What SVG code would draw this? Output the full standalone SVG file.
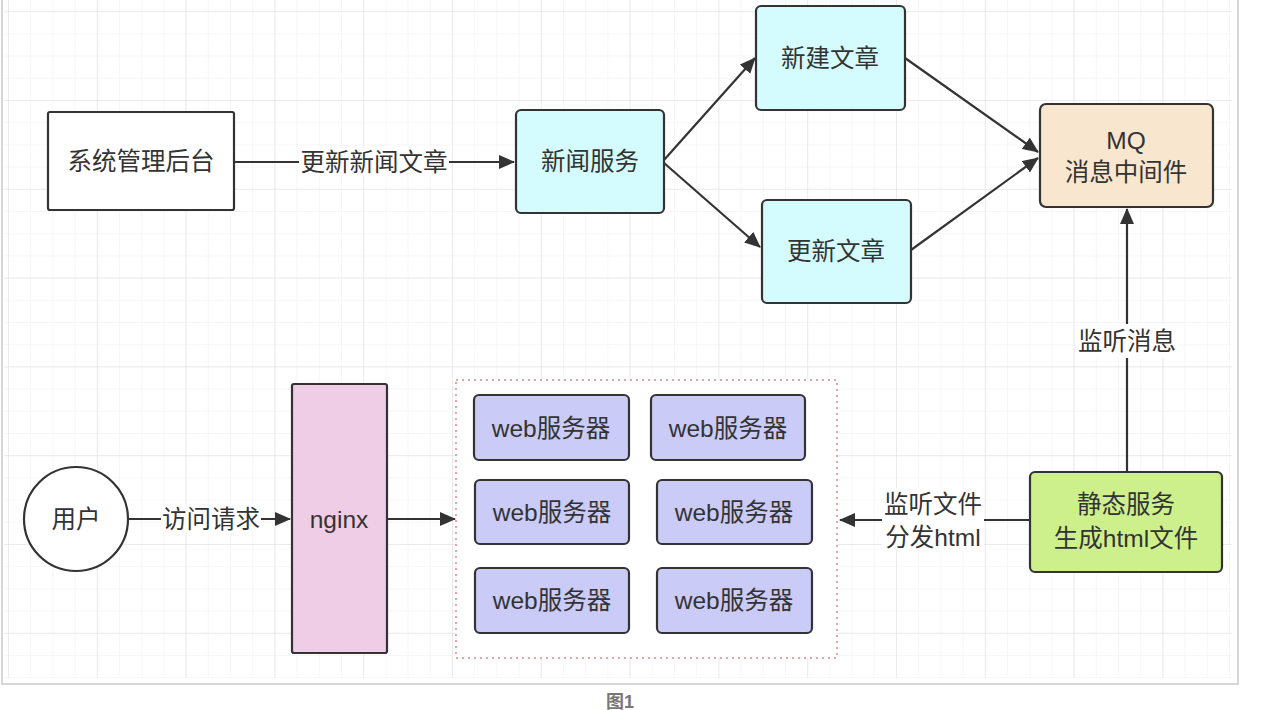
<svg xmlns="http://www.w3.org/2000/svg" width="1270" height="710" viewBox="0 0 1270 710">
<defs>
<pattern id="minor" x="8" y="11.2" width="22.2" height="22.2" patternUnits="userSpaceOnUse">
<path d="M0 0H22.2M0 0V22.2" fill="none" stroke="#eeeeee" stroke-width="1"/>
</pattern>
<pattern id="major" x="8" y="11.2" width="88.8" height="88.8" patternUnits="userSpaceOnUse">
<path d="M0 0H88.8M0 0V88.8" fill="none" stroke="#e0e0e0" stroke-width="1"/>
</pattern>
<marker id="arr" markerUnits="userSpaceOnUse" markerWidth="16" markerHeight="14" refX="15" refY="7" orient="auto">
<path d="M0 0L16 7L0 14Z" fill="#333"/>
</marker>
</defs>
<style>
.box{stroke:#333;stroke-width:2.2}
.t{font-family:"Liberation Sans","Noto Sans CJK SC",sans-serif;font-size:24.5px;fill:#333;text-anchor:middle;dominant-baseline:central}
.edge{stroke:#333;stroke-width:2.2;fill:none}
.lbg{fill:#fff}
</style>
<rect x="0" y="0" width="1270" height="710" fill="#fff"/>
<g id="frame">
<rect x="2" y="-2" width="1236" height="686" fill="#fff" stroke="#d6d6d6" stroke-width="2"/>
<rect x="4" y="0" width="1228" height="678" fill="url(#minor)"/>
<rect x="4" y="0" width="1228" height="678" fill="url(#major)"/>
</g>
<g id="connectors">
<line class="edge" x1="234" y1="162" x2="514" y2="162" marker-end="url(#arr)"/>
<rect class="lbg" x="299" y="148" width="150" height="28"/>
<text class="t" x="374" y="162">更新新闻文章</text>
<line class="edge" x1="664" y1="160" x2="755" y2="58" marker-end="url(#arr)"/>
<line class="edge" x1="664" y1="163" x2="760" y2="247" marker-end="url(#arr)"/>
<line class="edge" x1="905" y1="58" x2="1038" y2="152" marker-end="url(#arr)"/>
<line class="edge" x1="911" y1="250" x2="1038" y2="158" marker-end="url(#arr)"/>
<line class="edge" x1="1127" y1="472" x2="1127" y2="209" marker-end="url(#arr)"/>
<rect class="lbg" x="1076" y="324" width="102" height="34"/>
<text class="t" x="1127" y="341">监听消息</text>
<line class="edge" x1="1030" y1="520" x2="840" y2="520" marker-end="url(#arr)"/>
<rect class="lbg" x="882" y="488" width="102" height="62"/>
<text class="t" x="933" y="504">监听文件</text>
<text class="t" x="933" y="537">分发html</text>
<line class="edge" x1="128" y1="519" x2="290" y2="519" marker-end="url(#arr)"/>
<rect class="lbg" x="161" y="505" width="100" height="28"/>
<text class="t" x="211" y="519">访问请求</text>
<line class="edge" x1="387" y1="519" x2="455" y2="519" marker-end="url(#arr)"/>
</g>
<g id="admin">
<rect class="box" x="48" y="112" width="186" height="98" rx="2" fill="#fff"/>
<text class="t" x="141" y="161">系统管理后台</text>
</g>
<g id="news">
<rect class="box" x="516" y="110" width="148" height="103" rx="5" fill="#d4fbfd"/>
<text class="t" x="590" y="161">新闻服务</text>
</g>
<g id="create">
<rect class="box" x="756" y="6" width="149" height="104" rx="5" fill="#d4fbfd"/>
<text class="t" x="830" y="58">新建文章</text>
</g>
<g id="update">
<rect class="box" x="762" y="200" width="149" height="103" rx="5" fill="#d4fbfd"/>
<text class="t" x="836" y="251">更新文章</text>
</g>
<g id="mq">
<rect class="box" x="1040" y="104" width="173" height="103" rx="6" fill="#f9e6cf"/>
<text class="t" x="1126" y="140">MQ</text>
<text class="t" x="1126" y="172">消息中间件</text>
</g>
<g id="static">
<rect class="box" x="1030" y="472" width="192" height="100" rx="5" fill="#cdf08d"/>
<text class="t" x="1126" y="504">静态服务</text>
<text class="t" x="1126" y="538">生成html文件</text>
</g>
<g id="cluster">
<rect x="456" y="380" width="381" height="278" fill="#fff" stroke="#e8a4a4" stroke-width="2" stroke-dasharray="2 4"/>
</g>
<g id="web1"><rect class="box" x="474" y="395" width="155" height="65" rx="5" fill="#cbcbf7"/><text class="t" x="551" y="428">web服务器</text></g>
<g id="web2"><rect class="box" x="651" y="395" width="154" height="65" rx="5" fill="#cbcbf7"/><text class="t" x="728" y="428">web服务器</text></g>
<g id="web3"><rect class="box" x="475" y="480" width="154" height="64" rx="5" fill="#cbcbf7"/><text class="t" x="552" y="512">web服务器</text></g>
<g id="web4"><rect class="box" x="657" y="480" width="155" height="64" rx="5" fill="#cbcbf7"/><text class="t" x="734" y="512">web服务器</text></g>
<g id="web5"><rect class="box" x="475" y="568" width="154" height="65" rx="5" fill="#cbcbf7"/><text class="t" x="552" y="600">web服务器</text></g>
<g id="web6"><rect class="box" x="657" y="568" width="155" height="65" rx="5" fill="#cbcbf7"/><text class="t" x="734" y="600">web服务器</text></g>
<g id="nginx">
<rect class="box" x="292" y="384" width="95" height="269" rx="2" fill="#efcde6"/>
<text class="t" x="339" y="519">nginx</text>
</g>
<g id="user">
<circle class="box" cx="76" cy="519" r="52" fill="#fff"/>
<text class="t" x="76" y="519">用户</text>
</g>
<text x="620" y="708" font-family="Liberation Sans,'Noto Sans CJK SC',sans-serif" font-size="18" font-weight="bold" fill="#777" text-anchor="middle">图1</text>
</svg>
